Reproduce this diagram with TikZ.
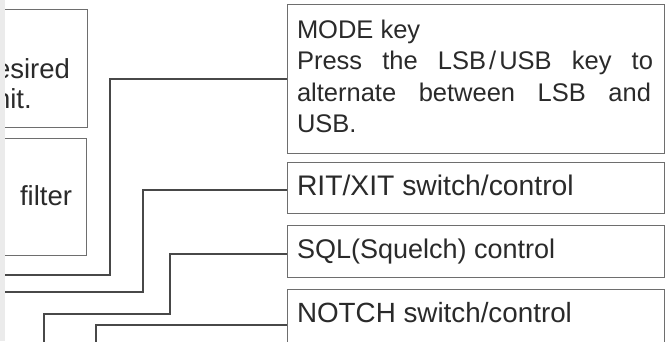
\documentclass[tikz,border=0pt]{standalone}
\usepackage{fontspec}
\setmainfont{Liberation Sans}
\definecolor{textgray}{HTML}{2A2A2A}
\definecolor{boxgray}{HTML}{6E6E6E}
\definecolor{leadgray}{HTML}{484848}
\definecolor{stripgray}{HTML}{EBEBEB}
\begin{document}
\begin{tikzpicture}[x=1pt,y=1pt,
  box/.style={draw=boxgray, line width=1pt, inner sep=0pt, outer sep=0pt, anchor=north west},
  lead/.style={draw=leadgray, line width=1.4pt},
  btxt/.style={inner sep=0pt, outer sep=0pt, text=textgray, font=\fontsize{27.5}{31}\selectfont, anchor=base west},
  mtxt/.style={inner sep=0pt, outer sep=0pt, text=textgray, font=\fontsize{25.5}{31}\selectfont, anchor=base west}]
\useasboundingbox (0,0) rectangle (666,341);
\fill[white] (0,0) rectangle (666,341);
\fill[stripgray] (0,0) rectangle (5,341);
\clip (5,0) rectangle (666,341);
% left boxes (partly cut off)
\node[box, minimum width=107pt, minimum height=117pt] (lb1) at (-20,331) {};
\node[box, minimum width=106.5pt, minimum height=117pt] (lb2) at (-20,203) {};
\node[btxt, anchor=base east] (t1) at (70,263) {desired};
\node[btxt] (t2) at ([yshift=-30pt]t1.base west) {unit.};
\node[btxt, anchor=base east] (t3) at (72,136) {filter};
% right boxes
\node[box, minimum width=377pt, minimum height=148pt] (mode) at (287,336) {};
\node[box, minimum width=377pt, minimum height=51pt] (rit) at (287,179) {};
\node[box, minimum width=377pt, minimum height=52pt] (sql) at (287,116) {};
\node[box, minimum width=377pt, minimum height=62pt] (notch) at (287,52) {};
% texts
\node[mtxt] (m1) at (297,303) {MODE key};
\node[mtxt] (m2) at (297,271.5) {\makebox[356pt][s]{Press the LSB\kern3pt/\kern3pt USB key to}};
\node[mtxt] (m3) at (297,240) {\makebox[354pt][s]{alternate between LSB and}};
\node[mtxt] (m4) at (297,208.5) {USB.};
\node[btxt, font=\fontsize{28.3}{31}\selectfont] (r1) at (297,146) {RIT/XIT switch/control};
\node[btxt, font=\fontsize{27}{31}\selectfont] (s1) at (297,83) {SQL(Squelch) control};
\node[btxt, font=\fontsize{27.8}{31}\selectfont] (n1) at (297,19) {NOTCH switch/control};
% free ends
\coordinate (e1) at (-10,66);
\coordinate (e2) at (-10,49);
\coordinate (e3) at (44,-10);
\coordinate (e4) at (96,-10);
% connectors
\draw[lead] (mode.west) -| (110,66) -- (e1);
\draw[lead] ([yshift=-2.5pt]rit.west) -| (143,49) -- (e2);
\draw[lead] ([yshift=-3pt]sql.west) -| (170,27) -| (e3);
\draw[lead] ([yshift=-5pt]notch.west) -| (e4);
\end{tikzpicture}
\end{document}
